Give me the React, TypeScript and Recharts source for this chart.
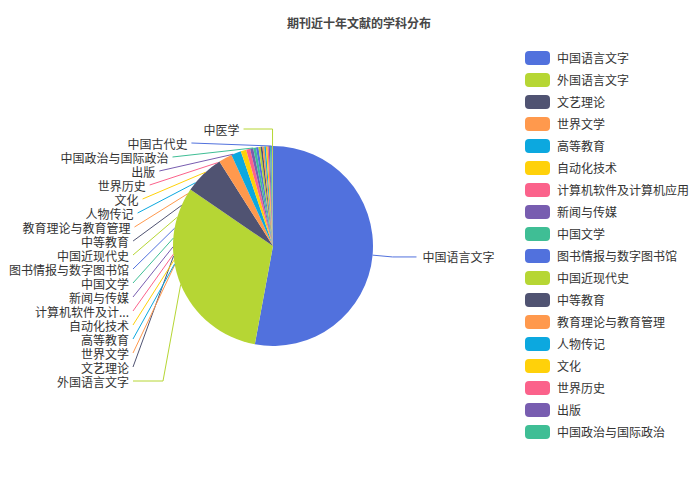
import { PieChart, Pie, Cell } from 'recharts';

const subjects = [
  '中国语言文字',
  '外国语言文字',
  '文艺理论',
  '世界文学',
  '高等教育',
  '自动化技术',
  '计算机软件及计算机应用',
  '新闻与传媒',
  '中国文学',
  '图书情报与数字图书馆',
  '中国近现代史',
  '中等教育',
  '教育理论与教育管理',
  '人物传记',
  '文化',
  '世界历史',
  '出版',
  '中国政治与国际政治',
  '中国古代史',
  '中医学',
];

const counts = [1064, 636, 130, 44, 32, 18, 13, 10, 9, 8, 7, 6, 6, 5, 5, 4, 4, 4, 3, 3];

const palette = ['#5171dd', '#b6d634', '#505372', '#ff994d', '#0ca8df', '#ffd10a', '#fb628b', '#785db0', '#3fbe95'];

const legendShown = 18;

const data = subjects.map((name, i) => ({ name, value: counts[i] }));

const RAD = Math.PI / 180;
const FONT = "'Noto Sans CJK SC', 'Noto Sans', sans-serif";

function shortName(name: string) {
  return name.length > 10 ? name.slice(0, 7) + '...' : name;
}

// stop a leader line where it first meets the pie, so it looks drawn behind the slices
function clipToCircle(ax: number, ay: number, ex: number, ey: number, cx: number, cy: number, r: number) {
  const dx = ex - ax;
  const dy = ey - ay;
  const fx = ax - cx;
  const fy = ay - cy;
  const a = dx * dx + dy * dy;
  const b = 2 * (fx * dx + fy * dy);
  const c = fx * fx + fy * fy - r * r;
  const disc = b * b - 4 * a * c;
  if (disc < 0) return [ex, ey];
  const t = (-b - Math.sqrt(disc)) / (2 * a);
  if (t > 0 && t < 1) return [ax + t * dx, ay + t * dy];
  return [ex, ey];
}

function renderLabel(props: any) {
  const { cx, cy, midAngle, outerRadius, index, name, percent } = props;
  const color = palette[index % palette.length];
  const cos = Math.cos(-midAngle * RAD);
  const sin = Math.sin(-midAngle * RAD);
  const ex = cx + outerRadius * cos;
  const ey = cy + outerRadius * sin;
  const R = outerRadius + 20;

  if (cos > 0) {
    const mx = cx + R * cos;
    const my = cy + R * sin;
    const nx = mx + 24;
    return (
      <g key={`lbl-${index}`}>
        <polyline points={`${ex},${ey} ${mx},${my} ${nx},${my}`} fill="none" stroke={color} strokeWidth={1} />
        <text x={nx + 6} y={my} fill="#333" fontSize={12} fontFamily={FONT} textAnchor="start" dominantBaseline="central">
          {shortName(name)}
        </text>
      </g>
    );
  }

  const labelY = cy + 135 - (index - 1) * 14;
  const dy = labelY - cy;
  let points: string;
  let textX: number;
  if (labelY < cy - outerRadius - 8) {
    const endX = ex - 29;
    points = `${ex},${ey} ${ex},${labelY} ${endX},${labelY}`;
    textX = endX - 4;
  } else {
    const endX = dy < 0 ? cx - Math.sqrt(Math.max(R * R - dy * dy, 0)) - 20 : cx - R - 20;
    const startX = percent > 0.2 ? endX + 30 : endX;
    const [px, py] = clipToCircle(startX, labelY, ex, ey, cx, cy, outerRadius);
    points = percent > 0.2 ? `${px},${py} ${startX},${labelY} ${endX},${labelY}` : `${px},${py} ${endX},${labelY}`;
    textX = endX - 4;
  }
  return (
    <g key={`lbl-${index}`}>
      <polyline points={points} fill="none" stroke={color} strokeWidth={1} />
      <text x={textX} y={labelY} fill="#333" fontSize={12} fontFamily={FONT} textAnchor="end" dominantBaseline="central">
        {shortName(name)}
      </text>
    </g>
  );
}

export default function App() {
  return (
    <div style={{ position: 'absolute', left: 0, top: 0, width: 689, height: 480, background: '#fff', fontFamily: FONT }}>
      <div
        style={{
          position: 'absolute',
          left: 0,
          width: 718,
          top: 14,
          textAlign: 'center',
          fontSize: 12,
          fontWeight: 'bold',
          color: '#464646',
          lineHeight: '18px',
        }}
      >
        期刊近十年文献的学科分布
      </div>
      <PieChart width={689} height={480} margin={{ top: 0, right: 0, bottom: 0, left: 0 }}>
        <Pie
          data={data}
          dataKey="value"
          nameKey="name"
          cx={273}
          cy={246}
          outerRadius={100}
          startAngle={90}
          endAngle={-270}
          stroke="none"
          label={renderLabel}
          labelLine={false}
          isAnimationActive={false}
        >
          {data.map((d, i) => (
            <Cell key={d.name} fill={palette[i % palette.length]} />
          ))}
        </Pie>
      </PieChart>
      <div style={{ position: 'absolute', left: 525, top: 47 }}>
        {subjects.slice(0, legendShown).map((name, i) => (
          <div key={name} style={{ display: 'flex', alignItems: 'center', height: 22 }}>
            <span
              style={{
                display: 'inline-block',
                width: 25,
                height: 14,
                borderRadius: 4,
                background: palette[i % palette.length],
                marginRight: 7,
              }}
            />
            <span style={{ fontSize: 12, color: '#333', lineHeight: '14px' }}>{name}</span>
          </div>
        ))}
      </div>
    </div>
  );
}
